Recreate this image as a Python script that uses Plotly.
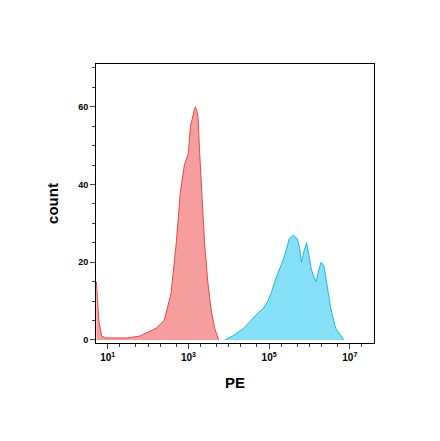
import plotly.graph_objects as go

red_logx = [0.72,0.78,0.85,0.95,1.2,1.5,1.8,2.0,2.2,2.4,2.57,2.7,2.8,2.9,3.0,3.05,3.12,3.17,3.21,3.24,3.28,3.34,3.4,3.48,3.56,3.65,3.75]
red_y    = [15,5,1,0.5,0.5,0.5,1,2,3,5,12,25,38,45,48,55,58,60,59,57,48,35,25,15,8,3,0]
blue_logx = [3.9,4.1,4.37,4.55,4.73,4.85,4.97,5.05,5.14,5.25,5.33,5.42,5.5,5.6,5.7,5.75,5.8,5.87,5.93,6.0,6.05,6.12,6.17,6.23,6.29,6.36,6.45,6.53,6.65,6.77,6.85]
blue_y    = [0,1,3,5,7,8,10,12,15,18,20,23,26,27,26,24,20,23,25,21,18,16,15,18,20,19,13,8,3,1,0]

tickvals = [10, 1e3, 1e5, 1e7]
ticktext = ["<b>10<sup>1</sup></b>", "<b>10<sup>3</sup></b>", "<b>10<sup>5</sup></b>", "<b>10<sup>7</sup></b>"]

fig = go.Figure()
fig.add_trace(go.Scatter(x=[10**v for v in red_logx], y=red_y, mode="lines", fill="tozeroy",
                         line=dict(color="#e8474a", width=1), fillcolor="rgba(245,140,140,0.85)"))
fig.add_trace(go.Scatter(x=[10**v for v in blue_logx], y=blue_y, mode="lines", fill="tozeroy",
                         line=dict(color="#1fb8d8", width=1), fillcolor="rgba(120,220,245,0.9)"))
fig.update_layout(width=440, height=441, showlegend=False, plot_bgcolor="white", paper_bgcolor="white",
                  margin=dict(l=88, r=74, t=56, b=106),
                  font=dict(family="Liberation Sans", color="black"))
fig.update_xaxes(type="log", range=[0.71, 7.6], tickvals=tickvals, ticktext=ticktext,
                 ticks="outside", ticklen=5, showline=True, linecolor="black", mirror=True,
                 showgrid=False, zeroline=False, tickfont=dict(size=10),
                 minor=dict(ticks="outside", ticklen=3, showgrid=False),
                 title=dict(text="<b>PE</b>", font=dict(size=15)))
fig.update_yaxes(range=[-0.8, 71], tickvals=[0,20,40,60], ticktext=["<b>0</b>","<b>20</b>","<b>40</b>","<b>60</b>"],
                 ticks="outside", ticklen=5, showline=True, linecolor="black", mirror=True,
                 showgrid=False, zeroline=False, tickfont=dict(size=9),
                 minor=dict(ticks="outside", ticklen=3, dtick=5, showgrid=False),
                 title=dict(text="<b>count</b>", font=dict(size=15)))
fig.write_html("out.html")
